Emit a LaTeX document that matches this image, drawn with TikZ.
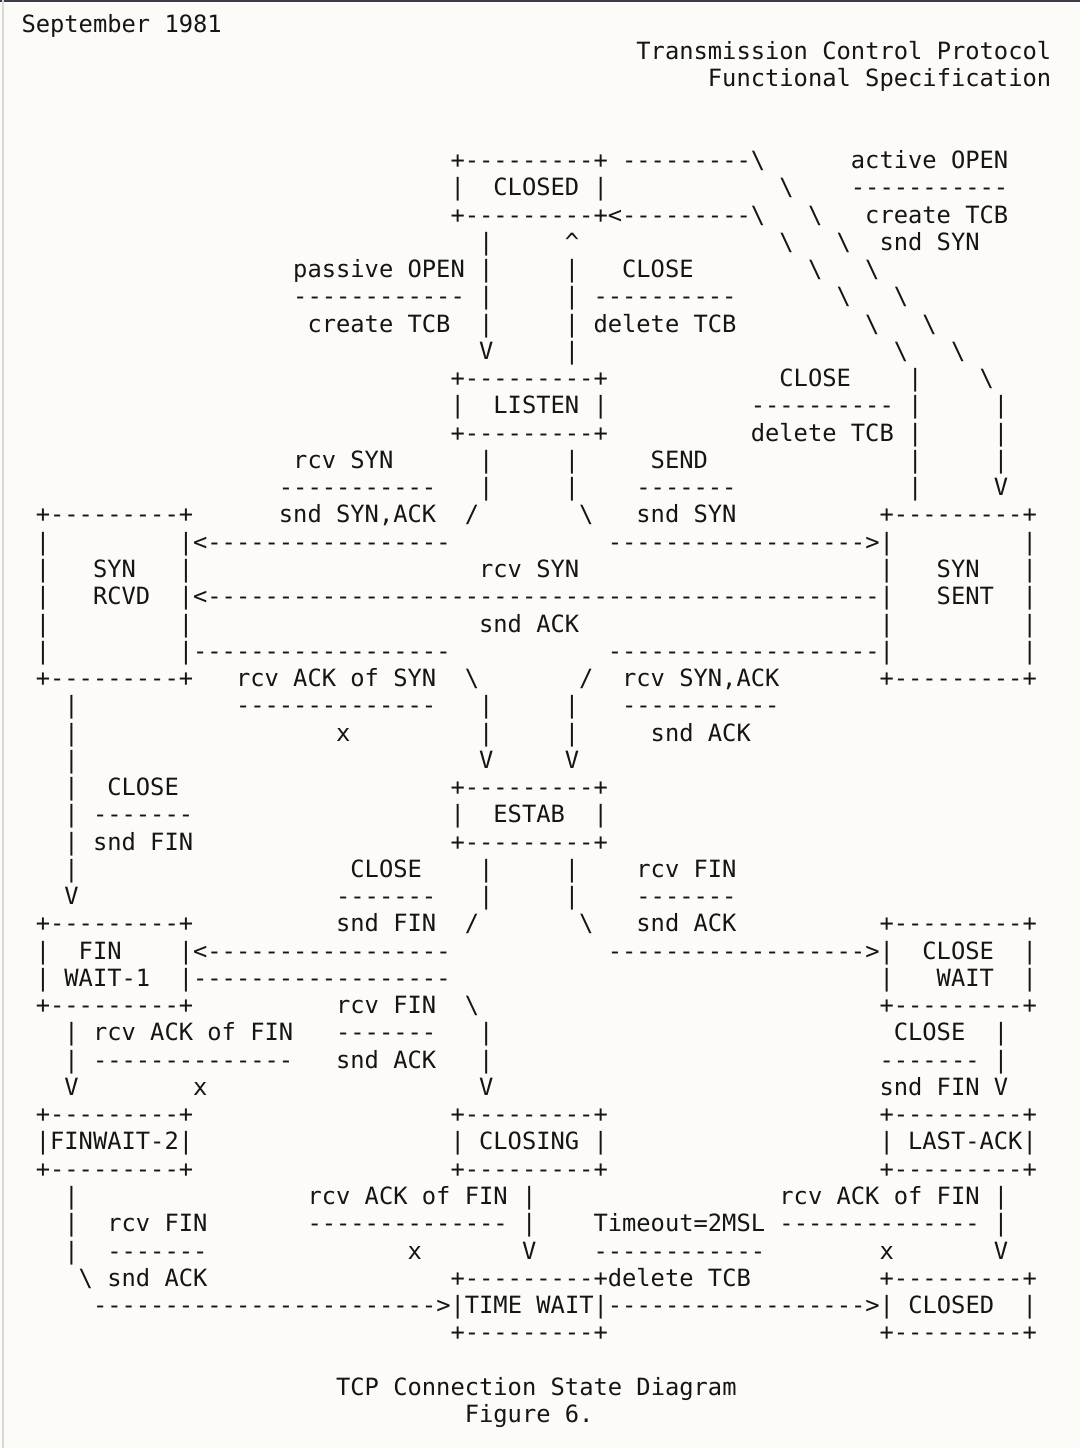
\documentclass[tikz,border=0pt]{standalone}
\usepackage{fontspec}
\setmonofont{DejaVu Sans Mono}
\definecolor{bg}{HTML}{FCFBF8}
\definecolor{ink}{HTML}{151515}
\definecolor{topbar}{HTML}{3C3C4A}
\definecolor{leftline}{HTML}{D8D8D8}
\tikzset{txt/.style={anchor=base west, inner sep=0pt, outer sep=0pt,
  font=\ttfamily\fontsize{11.88}{13.6}\selectfont, text=ink}}
\newcommand\T[3]{\node[txt] (r#2c#1) at ({21.5+14.30*#1},{32.3+27.26*#2}) {#3};}
\newcommand\BSL{\textbackslash}
\begin{document}
\begin{tikzpicture}[x=0.5pt,y=-0.5pt]
\fill[bg] (0,0) rectangle (1080,1448);
\useasboundingbox (0,0) rectangle (1080,1448);
\fill[topbar] (0,0) rectangle (1080,1.6);
\fill[leftline] (2,0) rectangle (3.5,1448);
% header
\T{0}{0}{September 1981}
\T{43}{1}{Transmission Control Protocol}
\T{48}{2}{Functional Specification}
% row 5
\T{30}{5}{+---------+ ---------\BSL}
\T{58}{5}{active OPEN}
% row 6
\T{30}{6}{|}\T{33}{6}{CLOSED |}\T{53}{6}{\BSL}\T{58}{6}{-----------}
% row 7
\T{30}{7}{+---------+<---------\BSL}\T{55}{7}{\BSL}\T{59}{7}{create TCB}
% row 8
\T{32}{8}{|}\T{38}{8}{\textasciicircum}\T{53}{8}{\BSL}\T{57}{8}{\BSL}\T{60}{8}{snd SYN}
% row 9
\T{19}{9}{passive OPEN |}\T{38}{9}{|}\T{42}{9}{CLOSE}\T{55}{9}{\BSL}\T{59}{9}{\BSL}
% row 10
\T{19}{10}{------------ |}\T{38}{10}{| ----------}\T{57}{10}{\BSL}\T{61}{10}{\BSL}
% row 11
\T{20}{11}{create TCB}\T{32}{11}{|}\T{38}{11}{| delete TCB}\T{59}{11}{\BSL}\T{63}{11}{\BSL}
% row 12
\T{32}{12}{V}\T{38}{12}{|}\T{61}{12}{\BSL}\T{65}{12}{\BSL}
% row 13
\T{30}{13}{+---------+}\T{53}{13}{CLOSE}\T{62}{13}{|}\T{67}{13}{\BSL}
% row 14
\T{30}{14}{|}\T{33}{14}{LISTEN |}\T{51}{14}{---------- |}\T{68}{14}{|}
% row 15
\T{30}{15}{+---------+}\T{51}{15}{delete TCB |}\T{68}{15}{|}
% row 16
\T{19}{16}{rcv SYN}\T{32}{16}{|}\T{38}{16}{|}\T{44}{16}{SEND}\T{62}{16}{|}\T{68}{16}{|}
% row 17
\T{18}{17}{-----------}\T{32}{17}{|}\T{38}{17}{|}\T{43}{17}{-------}\T{62}{17}{|}\T{68}{17}{V}
% row 18
\T{1}{18}{+---------+}\T{18}{18}{snd SYN,ACK}\T{31}{18}{/}\T{39}{18}{\BSL}\T{43}{18}{snd SYN}\T{60}{18}{+---------+}
% row 19
\T{1}{19}{|}\T{11}{19}{|<-----------------}\T{41}{19}{------------------>|}\T{70}{19}{|}
% row 20
\T{1}{20}{|}\T{5}{20}{SYN}\T{11}{20}{|}\T{32}{20}{rcv SYN}\T{60}{20}{|}\T{64}{20}{SYN}\T{70}{20}{|}
% row 21
\T{1}{21}{|}\T{5}{21}{RCVD}\T{11}{21}{|<-----------------------------------------------|}\T{64}{21}{SENT}\T{70}{21}{|}
% row 22
\T{1}{22}{|}\T{11}{22}{|}\T{32}{22}{snd ACK}\T{60}{22}{|}\T{70}{22}{|}
% row 23
\T{1}{23}{|}\T{11}{23}{|------------------}\T{41}{23}{-------------------|}\T{70}{23}{|}
% row 24
\T{1}{24}{+---------+}\T{15}{24}{rcv ACK of SYN}\T{31}{24}{\BSL}\T{39}{24}{/}\T{42}{24}{rcv SYN,ACK}\T{60}{24}{+---------+}
% row 25
\T{3}{25}{|}\T{15}{25}{--------------}\T{32}{25}{|}\T{38}{25}{|}\T{42}{25}{-----------}
% row 26
\T{3}{26}{|}\T{22}{26}{x}\T{32}{26}{|}\T{38}{26}{|}\T{44}{26}{snd ACK}
% row 27
\T{3}{27}{|}\T{32}{27}{V}\T{38}{27}{V}
% row 28
\T{3}{28}{|}\T{6}{28}{CLOSE}\T{30}{28}{+---------+}
% row 29
\T{3}{29}{| -------}\T{30}{29}{|}\T{33}{29}{ESTAB}\T{40}{29}{|}
% row 30
\T{3}{30}{| snd FIN}\T{30}{30}{+---------+}
% row 31
\T{3}{31}{|}\T{23}{31}{CLOSE}\T{32}{31}{|}\T{38}{31}{|}\T{43}{31}{rcv FIN}
% row 32
\T{3}{32}{V}\T{22}{32}{-------}\T{32}{32}{|}\T{38}{32}{|}\T{43}{32}{-------}
% row 33
\T{1}{33}{+---------+}\T{22}{33}{snd FIN}\T{31}{33}{/}\T{39}{33}{\BSL}\T{43}{33}{snd ACK}\T{60}{33}{+---------+}
% row 34
\T{1}{34}{|}\T{4}{34}{FIN}\T{11}{34}{|<-----------------}\T{41}{34}{------------------>|}\T{63}{34}{CLOSE}\T{70}{34}{|}
% row 35
\T{1}{35}{| WAIT-1}\T{11}{35}{|------------------}\T{60}{35}{|}\T{64}{35}{WAIT}\T{70}{35}{|}
% row 36
\T{1}{36}{+---------+}\T{22}{36}{rcv FIN}\T{31}{36}{\BSL}\T{60}{36}{+---------+}
% row 37
\T{3}{37}{| rcv ACK of FIN}\T{22}{37}{-------}\T{32}{37}{|}\T{61}{37}{CLOSE}\T{68}{37}{|}
% row 38
\T{3}{38}{| --------------}\T{22}{38}{snd ACK}\T{32}{38}{|}\T{60}{38}{------- |}
% row 39
\T{3}{39}{V}\T{12}{39}{x}\T{32}{39}{V}\T{60}{39}{snd FIN V}
% row 40
\T{1}{40}{+---------+}\T{30}{40}{+---------+}\T{60}{40}{+---------+}
% row 41
\T{1}{41}{|FINWAIT-2|}\T{30}{41}{| CLOSING |}\T{60}{41}{| LAST-ACK|}
% row 42
\T{1}{42}{+---------+}\T{30}{42}{+---------+}\T{60}{42}{+---------+}
% row 43
\T{3}{43}{|}\T{20}{43}{rcv ACK of FIN |}\T{53}{43}{rcv ACK of FIN |}
% row 44
\T{3}{44}{|}\T{6}{44}{rcv FIN}\T{20}{44}{-------------- |}\T{40}{44}{Timeout=2MSL -------------- |}
% row 45
\T{3}{45}{|}\T{6}{45}{-------}\T{27}{45}{x}\T{35}{45}{V}\T{40}{45}{------------}\T{60}{45}{x}\T{68}{45}{V}
% row 46
\T{4}{46}{\BSL{} snd ACK}\T{30}{46}{+---------+delete TCB}\T{60}{46}{+---------+}
% row 47
\T{5}{47}{------------------------>|TIME WAIT|------------------>| CLOSED}\T{70}{47}{|}
% row 48
\T{30}{48}{+---------+}\T{60}{48}{+---------+}
% footer
\T{22}{50}{TCP Connection State Diagram}
\T{31}{51}{Figure 6.}
\end{tikzpicture}
\end{document}
